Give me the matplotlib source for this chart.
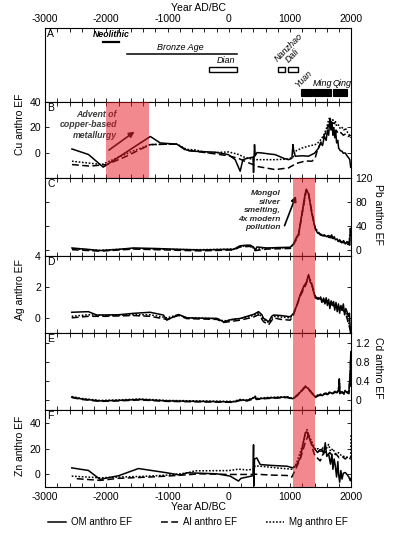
import matplotlib
matplotlib.use('Agg')
import matplotlib.pyplot as plt
from matplotlib.patches import Rectangle
from matplotlib.ticker import MultipleLocator, FixedLocator

plt.rcParams['font.family'] = ['Liberation Sans', 'DejaVu Sans']
plt.rcParams['axes.unicode_minus'] = False
plt.rcParams['font.size'] = 7

# ---------------- data ----------------
x_ticks = [-3000, -2000, -1000, 0, 1000, 2000]
legend_labels = ['OM anthro EF', 'Al anthro EF', 'Mg anthro EF']

# Panel A: cultural periods
neolithic = (-2050, -1800)
bronze_age = (-1665, 142)
open_periods = ['Dian', 'Nanzhao', 'Dali']
open_start = [-320, 796, 959]
open_end = [132, 911, 1129]
dyn_periods = ['Yuan', 'Ming', 'Qing']
dyn_start = [1178, 1374, 1701]
dyn_end = [1358, 1673, 1930]

# Panel B: Cu
cu_om_x = [-2560, -2290, -2050, -1280, -1120, -850, -690, -550, -220, -5, 105, 186, 230, 300, 395, 404, 420, 431, 460,
           541, 650, 758, 900, 975, 1030, 1047, 1060, 1085, 1200, 1302, 1400, 1466, 1500, 1530, 1560, 1590, 1610, 1630,
           1645, 1657, 1670, 1685, 1700, 1715, 1730, 1745, 1760, 1780, 1793, 1820, 1848, 1870, 1902, 1930, 1957, 1975, 1990]
cu_om_y = [3.3, -1, -10.8, 13, 8, 7, 2.5, 1.5, 0.8, -1.1, -5, -14, -5, -4, -3, -15, 6.7, -2, 0.5,
           0.2, -0.5, -1.1, -4, -5, -4, 6.7, 2, -2.3, -2, -2.3, 0, 4, 8, 6, 13, 10, 18, 14,
           24, 27, 18, 24, 14, 20, 12, 17, 8, 10, 4, 2, 1.5, 0, 0.2, -2, -3.6, -5, -11]
cu_al_x = [-2560, -2265, -1992, -1700, -1400, -1280, -1000, -850, -690, -550, -222, -5, 160, 250, 404, 431, 758, 975,
           1100, 1250, 1358, 1411, 1450, 1500, 1540, 1580, 1610, 1630, 1660, 1690, 1720, 1750, 1793, 1830, 1870, 1910,
           1950, 1990]
cu_al_y = [-8.8, -10, -8.8, -3, 4, 6.7, 7, 7, 2, 1.5, -0.5, -2, -4, -6, -9, -10, -12.7, -11.4,
           -8, -6, -6.2, -3.6, 3, 8, 12, 16, 20, 22, 18, 20, 15, 18, 15, 16, 14, 15,
           13, 14]
cu_mg_x = [-2560, -2074, -1600, -1284, -848, -690, -550, -300, -222, 0, 160, 250, 404, 431, 758, 975, 1047, 1085,
           1194, 1300, 1411, 1480, 1520, 1560, 1600, 1630, 1650, 1670, 1700, 1720, 1739, 1760, 1790, 1820, 1850,
           1880, 1902, 1940, 1970, 1990]
cu_mg_y = [-6.2, -8.8, 1, 6.7, 7.2, 3, 2.6, 0, 0.5, 1, -1, -3, -5, -5, -5, -4.5, -3, 1.5,
           4, 5.5, 6.7, 9, 11.9, 15, 20, 26, 28, 24, 26, 22, 25, 21, 22, 19, 20,
           18, 19.6, 16, 14, 11.9]

# Panel C: Pb
pb_om_x = [-2560, -2300, -2100, -1800, -1557, -1200, -800, -467, 0, 77, 186, 300, 350, 404, 431, 460, 622, 800, 1003,
           1057, 1100, 1139, 1194, 1240, 1265, 1302, 1357, 1411, 1450, 1493, 1530, 1560, 1600, 1630, 1657, 1680,
           1700, 1720, 1740, 1766, 1790, 1810, 1840, 1875, 1900, 1930, 1957, 1975, 1984, 1992]
pb_om_y = [3.3, 1, -1, 1, 3.3, 2.5, 1, 0, 1, 1, 7, 8, 8, 5, 0, 5, 3.3, 4, 4.5,
           10, 20, 26.7, 60, 90, 101, 93, 60, 35, 28, 26.7, 24, 25, 22, 24, 22, 25,
           19, 22, 17, 18, 14, 17, 12, 15.5, 10, 14, 10, 8, 36, 30]
pb_al_x = [-2560, -2100, -1557, -1000, -467, 77, 186, 350, 431, 622, 1003, 1057, 1139, 1194, 1265, 1302, 1357,
           1411, 1493, 1560, 1630, 1700, 1766, 1840, 1900, 1957, 1990]
pb_al_y = [0.5, -2, 1.5, 0, -1.5, 0, 5, 6, -1, 1.5, 2.5, 9, 24, 58, 99, 95, 62, 36, 25, 23, 21, 20, 16, 13, 11, 9, 26]
pb_mg_x = [-2560, -2100, -1557, -1000, -467, 77, 186, 350, 431, 622, 1003, 1057, 1139, 1194, 1265, 1302, 1357,
           1411, 1493, 1560, 1630, 1700, 1766, 1840, 1900, 1957, 1990]
pb_mg_y = [2, -0.5, 2.5, 1, 0.5, 1.5, 6, 7, 1, 3, 3.5, 10, 25, 59, 100, 94, 61, 36, 26, 24, 23, 21, 18, 14, 12, 11, 33]

# Panel D: Ag
ag_om_x = [-2564, -2292, -2155, -1800, -1557, -1284, -1067, -1012, -822, -685, -194, -86, 50, 186, 300, 404, 486,
           540, 568, 600, 650, 700, 731, 850, 1003, 1057, 1110, 1167, 1230, 1265, 1302, 1330, 1357, 1390, 1411,
           1440, 1470, 1500, 1520, 1548, 1570, 1590, 1610, 1630, 1650, 1670, 1690, 1711, 1730, 1750, 1770, 1790,
           1810, 1830, 1850, 1870, 1890, 1910, 1930, 1950, 1970, 1984, 1995]
ag_om_y = [0.36, 0.4, 0.18, 0.2, 0.29, 0.36, 0.18, -0.15, 0.22, 0.0, -0.04, -0.26, -0.1, -0.04, 0.1, 0.22, 0.4,
           0.2, -0.04, -0.1, -0.26, 0.1, 0.18, 0.15, 0.07, 0.29, 0.8, 1.5, 2.1, 2.27, 2.8, 2.3, 2.15, 1.6, 1.38,
           1.3, 1.2, 1.35, 1.0, 1.28, 0.9, 1.3, 0.8, 1.2, 0.6, 1.1, 0.9, 1.05, 0.5, 1.0, 0.4, 0.9,
           0.3, 0.8, 0.5, 0.9, 0.2, 0.6, 0.4, 0.1, 0.3, -0.92, -1.0]
ag_al_x = [-2564, -2292, -2000, -1557, -1284, -1012, -822, -685, -194, -86, 186, 404, 486, 568, 650, 731, 850, 1003,
           1057, 1167, 1265, 1302, 1357, 1411, 1500, 1600, 1700, 1800, 1900, 1984]
ag_al_y = [0.0, 0.1, 0.1, 0.15, 0.1, -0.1, 0.15, -0.05, -0.1, -0.3, -0.15, 0.05, 0.2, -0.25, -0.45, 0.0, -0.1, -0.15,
           0.2, 1.4, 2.2, 2.7, 2.1, 1.3, 1.1, 1.0, 0.8, 0.6, 0.4, -0.8]
ag_mg_x = [-2564, -2292, -2000, -1557, -1284, -1012, -822, -685, -194, -86, 186, 404, 486, 568, 650, 731, 850, 1003,
           1057, 1167, 1265, 1302, 1357, 1411, 1500, 1600, 1700, 1800, 1900, 1984]
ag_mg_y = [0.1, 0.2, 0.15, 0.2, 0.2, 0.0, 0.2, 0.0, -0.05, -0.2, -0.05, 0.15, 0.3, -0.1, -0.3, 0.1, 0.05, 0.0,
           0.25, 1.5, 2.3, 2.75, 2.2, 1.4, 1.2, 1.1, 0.9, 0.7, 0.5, -0.7]

# Panel E: Cd
cd_x = [-2564, -2400, -2101, -1800, -1448, -1012, -500, 77, 186, 300, 404, 431, 450, 622, 800, 950, 1047, 1110,
        1167, 1248, 1302, 1360, 1411, 1450, 1493, 1530, 1570, 1610, 1650, 1690, 1730, 1766, 1790, 1804, 1812,
        1850, 1880, 1900, 1930, 1960, 1984, 1992, 1998]
cd_om_y = [0.07, 0.03, -0.01, 0.0, 0.02, -0.01, -0.02, -0.03, 0.01, 0.0, 0.05, 0.08, 0.03, 0.05, 0.06, 0.07, 0.035,
           0.1, 0.17, 0.29, 0.24, 0.15, 0.07, 0.1, 0.12, 0.1, 0.15, 0.13, 0.17, 0.14, 0.18, 0.17, 0.2, 0.45, 0.15,
           0.18, 0.14, 0.2, 0.17, 0.15, 0.59, 1.0, 0.3]
cd_al_y = [0.06, 0.02, -0.02, -0.01, 0.01, -0.02, -0.03, -0.04, 0.0, -0.01, 0.03, 0.06, 0.02, 0.04, 0.05, 0.06, 0.03,
           0.09, 0.16, 0.28, 0.23, 0.14, 0.06, 0.09, 0.11, 0.09, 0.14, 0.12, 0.16, 0.13, 0.17, 0.16, 0.19, 0.42, 0.14,
           0.17, 0.13, 0.19, 0.16, 0.14, 0.55, 0.95, 0.28]
cd_mg_y = [0.08, 0.04, 0.0, 0.01, 0.03, 0.0, -0.01, -0.02, 0.02, 0.01, 0.06, 0.09, 0.04, 0.06, 0.07, 0.08, 0.04,
           0.11, 0.18, 0.30, 0.25, 0.16, 0.08, 0.11, 0.13, 0.11, 0.16, 0.14, 0.18, 0.15, 0.19, 0.18, 0.21, 0.44, 0.16,
           0.19, 0.15, 0.21, 0.18, 0.16, 0.6, 1.02, 0.32]

# Panel F: Zn
zn_om_x = [-2564, -2292, -2101, -1800, -1475, -1012, -794, -685, -194, 23, 158, 200, 300, 395, 404, 410, 420, 458,
           513, 700, 950, 1047, 1100, 1167, 1248, 1275, 1357, 1411, 1450, 1480, 1520, 1550, 1575, 1600, 1630, 1660,
           1684, 1700, 1720, 1739, 1760, 1780, 1793, 1810, 1830, 1848, 1870, 1902, 1930, 1960, 1984, 1995]
zn_om_y = [5.1, 3.1, -3.8, -1, 4.6, 1.3, -0.5, 1.3, 0.5, -1.3, -5.1, -3, -2, -1, 23, -9, 12, 12.8,
           7.7, 7, 6.4, 5.1, 7, 12.8, 32.3, 33, 23, 19.2, 17, 19, 19.5, 16, 24.6, 14, 16, 8,
           15.6, 4, 12, 6.7, -2, 10, 0.2, -6, 3, -3.6, 1, 1.5, 0, -2, -4.9, -3]
zn_al_x = [-2482, -2101, -1800, -1284, -848, -467, 0, 404, 431, 700, 950, 1030, 1100, 1167, 1250, 1302, 1340, 1380,
           1411, 1439, 1493, 1530, 1570, 1610, 1650, 1700, 1750, 1800, 1850, 1900, 1957, 1990]
zn_al_y = [-3.3, -4.6, -3, -2, -0.8, 0.5, 0, 0, 0.2, -0.5, -0.8, -2, 5, 12, 25, 31, 25, 18,
           14, 13, 10.5, 15, 18, 15, 17, 14, 16, 13, 14, 12, 14.4, 13]
zn_mg_x = [-2564, -2101, -1800, -1400, -1000, -700, -549, 0, 158, 300, 404, 431, 600, 800, 1030, 1100, 1200, 1275,
           1330, 1411, 1460, 1500, 1540, 1580, 1630, 1660, 1700, 1740, 1793, 1830, 1880, 1957, 1990, 1995]
zn_mg_y = [-1.3, -2.6, -2, -1.5, -0.5, 1, 2.8, 3, 4.1, 3.5, 4, 6.7, 6, 5, 4.1, 8, 22, 34.8,
           28, 19.5, 20, 17, 21, 19, 23.3, 18, 20, 16, 16.9, 15, 14, 13, 12, 31]

# ---------------- layout ----------------
W, H = 396, 534
fig = plt.figure(figsize=(W / 100, H / 100), dpi=100)

L, R = 45, 351.3


def rect(top, bot):
    return [L / W, 1 - bot / H, (R - L) / W, (bot - top) / H]


bounds = [(28, 101.7), (101.7, 177.7), (177.7, 256), (256, 333.3), (333.3, 410), (410, 486.7)]
axes = [fig.add_axes(rect(t, b)) for t, b in bounds]
axA, axB, axC, axD, axE, axF = axes

BAND = '#e6141e'
LW = 1.1
AL_DASH = (4.5, 2.2)
MG_DASH = (1.1, 1.1)

for i, ax in enumerate(axes):
    ax.set_xlim(-3000, 2000)
    ax.xaxis.set_major_locator(FixedLocator(x_ticks))
    ax.xaxis.set_minor_locator(MultipleLocator(200))
    ax.tick_params(which='both', direction='in', length=3, width=0.6, top=True, bottom=True,
                   left=True, right=True, labelbottom=False, labeltop=False,
                   labelleft=False, labelright=False, labelsize=7.5, pad=3)
    for s in ax.spines.values():
        s.set_linewidth(0.8)
    ax.text(0.008, 0.985, 'ABCDEF'[i], transform=ax.transAxes, ha='left', va='top', fontsize=7.5)

# Panel A
axA.set_ylim(0, 1)
axA.set_yticks([])
axA.tick_params(labeltop=True, left=False, right=False)
axA.xaxis.set_label_position('top')
axA.set_xlabel('Year AD/BC', fontsize=7.5, labelpad=2)
axA.plot(neolithic, [0.806, 0.806], color='k', lw=1.6)
axA.text(sum(neolithic) / 2, 0.855, 'Neolithic', style='italic', fontweight='bold', ha='center', va='bottom', fontsize=6.3)
axA.plot(bronze_age, [0.651, 0.651], color='k', lw=1.1)
axA.text(-794, 0.68, 'Bronze Age', style='italic', ha='center', va='bottom', fontsize=6.5)
for n, s, e in zip(open_periods, open_start, open_end):
    axA.add_patch(Rectangle((s, 0.407), e - s, 0.068, fill=False, ec='k', lw=1.0))
axA.text(open_end[0] - 20, 0.5, 'Dian', style='italic', ha='right', va='bottom', fontsize=6.5)
axA.text(830, 0.52, 'Nanzhao', style='italic', rotation=45, rotation_mode='anchor',
         ha='left', va='bottom', fontsize=6.5)
axA.text(1000, 0.50, 'Dali', style='italic', rotation=45, rotation_mode='anchor',
         ha='left', va='bottom', fontsize=6.5)
for n, s, e in zip(dyn_periods, dyn_start, dyn_end):
    axA.add_patch(Rectangle((s, 0.077), e - s, 0.091, fc='k', ec='k', lw=0.8))
axA.text(1160, 0.17, 'Yuan', style='italic', rotation=45, rotation_mode='anchor',
         ha='left', va='bottom', fontsize=6.3)
axA.text(1374, 0.18, 'Ming', style='italic', ha='left', va='bottom', fontsize=6.5)
axA.text(1695, 0.18, 'Qing', style='italic', ha='left', va='bottom', fontsize=6.5)


def draw(ax, xo, yo, xa, ya, xm, ym):
    h1, = ax.plot(xo, yo, color='k', lw=LW, solid_joinstyle='round')
    h2, = ax.plot(xa, ya, color='k', lw=LW, ls=(0, AL_DASH))
    h3, = ax.plot(xm, ym, color='k', lw=LW, ls=(0, MG_DASH))
    return [h1, h2, h3]


# Panel B
draw(axB, cu_om_x, cu_om_y, cu_al_x, cu_al_y, cu_mg_x, cu_mg_y)
axB.set_ylim(-19, 40)
axB.set_yticks([0, 20, 40])
axB.tick_params(axis='y', labelleft=True)
axB.axvspan(-2000, -1300, color=BAND, alpha=0.5, lw=0, zorder=3)
axB.text(-1828, 22.1, 'Advent of\ncopper-based\nmetallurgy', style='italic', fontweight='bold',
         color='#3a3a3a', ha='right', va='center', multialignment='right', fontsize=6.3, linespacing=1.2, zorder=2)
axB.annotate('', xy=(-1502, 18), xytext=(-1992, 1.2),
             arrowprops=dict(arrowstyle='-|>', color='#1a1a1a', lw=1.2, mutation_scale=8), zorder=2)

# Panel C
draw(axC, pb_om_x, pb_om_y, pb_al_x, pb_al_y, pb_mg_x, pb_mg_y)
axC.set_ylim(-10, 120)
axC.set_yticks([0, 40, 80, 120])
axC.tick_params(axis='y', labelright=True)
axC.text(851, 65, 'Mongol\nsilver\nsmelting,\n4x modern\npollution', style='italic', fontweight='bold',
         color='#2a2a2a', ha='right', va='center', multialignment='right', fontsize=6, linespacing=1.3)
axC.annotate('', xy=(1113, 94), xytext=(894, 36),
             arrowprops=dict(arrowstyle='-|>', color='k', lw=1.2, mutation_scale=8))

# Panel D
draw(axD, ag_om_x, ag_om_y, ag_al_x, ag_al_y, ag_mg_x, ag_mg_y)
axD.set_ylim(-1, 4)
axD.set_yticks([0, 2, 4])
axD.tick_params(axis='y', labelleft=True)

# Panel E
draw(axE, cd_x, cd_om_y, cd_x, cd_al_y, cd_x, cd_mg_y)
axE.set_ylim(-0.2, 1.4)
axE.set_yticks([0, 0.4, 0.8, 1.2])
axE.set_yticklabels(['0', '0.4', '0.8', '1.2'])
axE.tick_params(axis='y', labelright=True)

# Panel F
handles = draw(axF, zn_om_x, zn_om_y, zn_al_x, zn_al_y, zn_mg_x, zn_mg_y)
axF.set_ylim(-9.5, 50)
axF.set_yticks([0, 20, 40])
axF.tick_params(axis='y', labelleft=True)
axF.tick_params(axis='x', labelbottom=True, pad=4)
axF.set_xlabel('Year AD/BC', fontsize=7.5, labelpad=0)

for ax in (axC, axD, axE, axF):
    ax.axvspan(1050, 1400, color=BAND, alpha=0.5, lw=0, zorder=3)


# y labels
def px(x, y):
    return x / W, 1 - y / H


for lab, (x, y), rot in [('Cu anthro EF', (20, 124), 90), ('Pb anthro EF', (378, 214), 270),
                         ('Ag anthro EF', (20, 290), 90), ('Cd anthro EF', (378, 368), 270),
                         ('Zn anthro EF', (20, 446), 90)]:
    fig.text(*px(x, y), lab, rotation=rot, ha='center', va='center', fontsize=7.5)

fig.legend(handles, legend_labels, loc='center', bbox_to_anchor=px(198, 522), ncol=3, frameon=False,
           fontsize=7, handlelength=1.8, columnspacing=3.0, handletextpad=0.5)

fig.savefig('out.png', dpi=100)
